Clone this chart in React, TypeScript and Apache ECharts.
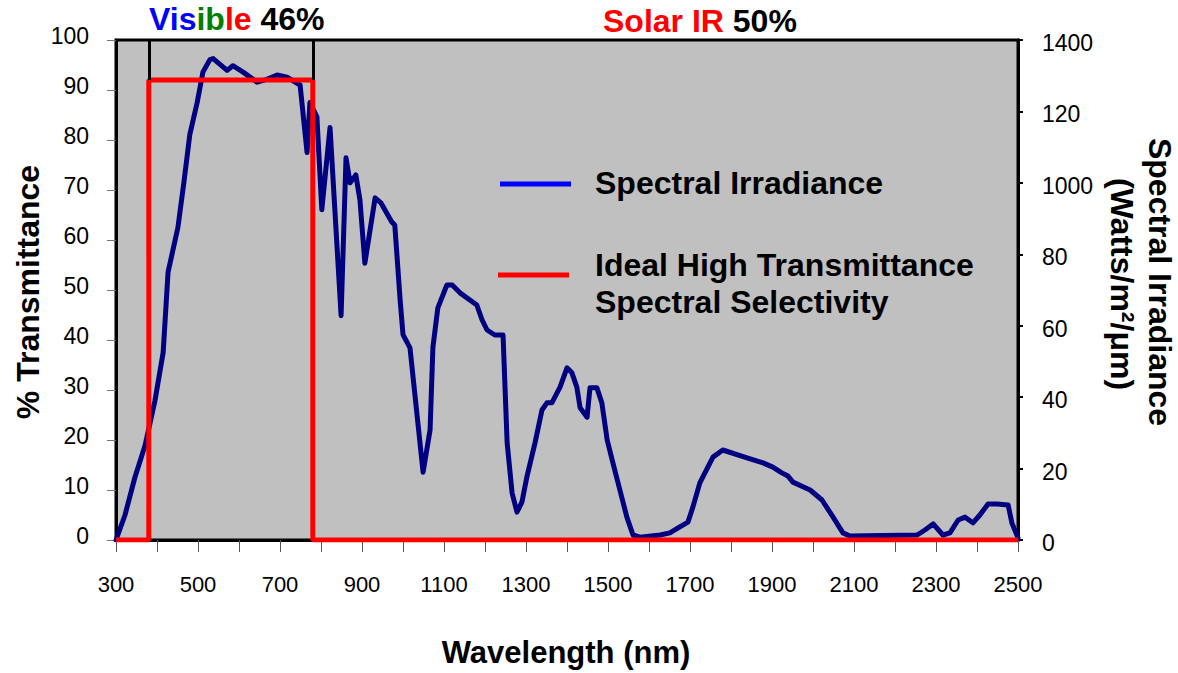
import React, { useEffect, useRef } from "react";
import * as echarts from "echarts";

// Wavelength (nm) and solar spectral irradiance (W/m²/µm)
const wavelengths = [
  300, 322, 346, 371, 395, 415, 427, 451, 466, 480, 498, 512, 529, 537, 571, 585, 610, 644, 668, 693,
  717, 749, 766, 773, 790, 802, 822, 849, 861, 871, 885, 895, 907, 932, 946, 973, 980, 993, 1000, 1017,
  1049, 1066, 1073, 1085, 1107, 1120, 1139, 1180, 1193, 1205, 1224, 1244, 1254, 1266, 1278, 1290, 1302,
  1322, 1339, 1351, 1363, 1383, 1400, 1412, 1424, 1432, 1449, 1456, 1473, 1485, 1498, 1512, 1529, 1546,
  1561, 1578, 1627, 1651, 1671, 1695, 1707, 1724, 1756, 1780, 1839, 1878, 1902, 1924, 1939, 1951, 1993,
  2022, 2049, 2073, 2090, 2254, 2273, 2293, 2317, 2334, 2354, 2371, 2390, 2407, 2427, 2449, 2476, 2485, 2500,
];
const irradiance = [
  0, 70, 175, 265, 390, 525, 750, 875, 1005, 1135, 1225, 1310, 1345, 1348, 1315, 1328, 1310, 1282, 1290, 1302,
  1296, 1274, 1085, 1225, 1185, 925, 1155, 628, 1070, 1000, 1022, 952, 775, 958, 944, 890, 882, 672, 575, 538,
  190, 308, 540, 650, 714, 714, 692, 658, 616, 588, 574, 574, 272, 132, 78, 106, 176,
  272, 364, 384, 384, 428, 482, 468, 428, 370, 344, 426, 426, 384, 280, 216, 140, 64,
  14, 8, 14, 20, 34, 50, 92, 160, 232, 252, 230, 216, 204, 188, 179, 162, 140,
  112, 64, 20, 11, 14, 28, 45, 14, 20, 56, 64, 48, 70, 101, 101, 98, 48, 6,
];

// Ideal high-transmittance spectral selectivity (% transmittance)
const idealWavelengths = [300, 380, 380, 780, 780, 2500];
const idealTransmittance = [0, 0, 92, 92, 0, 0];
const visibleBounds = [380, 780];

// Axis tick labels
const xLabelValues = [300, 500, 700, 900, 1100, 1300, 1500, 1700, 1900, 2100, 2300, 2500];
const rightTickValues = [0, 200, 400, 600, 800, 1000, 1200, 1400];
const rightTickLabels = ["0", "20", "40", "60", "80", "1000", "120", "1400"];

const FONT = "Liberation Sans, Arial, Helvetica, sans-serif";
const BOLD = `bold 32px ${FONT}`;

export default function App() {
  const ref = useRef<HTMLDivElement>(null);

  useEffect(() => {
    if (!ref.current) return;
    const chart = echarts.init(ref.current, null, { renderer: "svg" });

    const blueData = wavelengths.map((w, i) => [w, irradiance[i]]);
    const redData = idealWavelengths.map((w, i) => [w, idealTransmittance[i]]);
    const top = idealTransmittance[2];

    const option: any = {
      animation: false,
      backgroundColor: "#ffffff",
      textStyle: { fontFamily: FONT },
      grid: {
        left: 116,
        right: 160,
        top: 40,
        bottom: 133,
        show: true,
        backgroundColor: "#c0c0c0",
        borderColor: "#000000",
        borderWidth: 3,
      },
      xAxis: {
        type: "value",
        min: 300,
        max: 2500,
        interval: 100,
        axisLine: { show: true, onZero: false, lineStyle: { color: "#000", width: 3 } },
        axisTick: { show: true, length: 12, lineStyle: { color: "#555", width: 1 } },
        splitLine: { show: false },
        axisLabel: {
          color: "#000",
          fontSize: 22,
          fontFamily: FONT,
          margin: 33,
          formatter: (v: number) => (xLabelValues.indexOf(v) >= 0 ? String(v) : ""),
        },
      },
      yAxis: [
        {
          type: "value",
          min: 0,
          max: 100,
          interval: 10,
          position: "left",
          axisLine: { show: true, lineStyle: { color: "#000", width: 3 } },
          axisTick: { show: true, length: 9, lineStyle: { color: "#777", width: 1 } },
          splitLine: { show: false },
          axisLabel: {
            color: "#000",
            fontSize: 23,
            fontFamily: FONT,
            margin: 27,
            formatter: (v: number) => `{a|${v}}`,
            rich: { a: { fontSize: 23, fontFamily: FONT, color: "#000", padding: [0, 0, 9, 0] } },
          },
        },
        {
          type: "value",
          min: 0,
          max: 1400,
          interval: 200,
          position: "right",
          axisLine: { show: true, lineStyle: { color: "#000", width: 3 } },
          axisTick: { show: true, length: 5, lineStyle: { color: "#000", width: 2 } },
          splitLine: { show: false },
          axisLabel: {
            color: "#000",
            fontSize: 23,
            fontFamily: FONT,
            margin: 24,
            formatter: (v: number) => {
              const k = rightTickValues.indexOf(v);
              return k >= 0 ? `{a|${rightTickLabels[k]}}` : "";
            },
            rich: { a: { fontSize: 23, fontFamily: FONT, color: "#000", padding: [6, 0, 0, 0] } },
          },
        },
      ],
      series: [
        {
          name: "Spectral Irradiance",
          type: "line",
          yAxisIndex: 1,
          data: blueData,
          showSymbol: false,
          symbol: "none",
          lineStyle: { color: "#000080", width: 5, join: "round", cap: "round" },
          z: 3,
        },
        {
          name: "Ideal High Transmittance Spectral Selectivity",
          type: "line",
          yAxisIndex: 0,
          data: redData,
          showSymbol: false,
          symbol: "none",
          lineStyle: { color: "#ff0000", width: 5 },
          z: 4,
          markLine: {
            silent: true,
            symbol: "none",
            label: { show: false },
            lineStyle: { color: "#000", width: 3, type: "solid" },
            data: visibleBounds.map((b) => [{ coord: [b, 100] }, { coord: [b, top] }]),
          },
        },
      ],
      graphic: [
        {
          type: "text",
          left: 149,
          top: 3,
          style: {
            text: "{b|Vis}{g|ib}{r|le}{k| 46%}",
            font: BOLD,
            rich: {
              b: { fill: "#0000ff", font: BOLD },
              g: { fill: "#008000", font: BOLD },
              r: { fill: "#ff0000", font: BOLD },
              k: { fill: "#000000", font: BOLD },
            },
          },
        },
        {
          type: "text",
          left: 603,
          top: 5,
          style: {
            text: "{r|Solar IR}{k| 50%}",
            font: BOLD,
            rich: {
              r: { fill: "#ff0000", font: BOLD },
              k: { fill: "#000000", font: BOLD },
            },
          },
        },
        {
          type: "line",
          shape: { x1: 500, y1: 184, x2: 571, y2: 184 },
          style: { stroke: "#0000ff", lineWidth: 5 },
          z: 10,
        },
        {
          type: "line",
          shape: { x1: 498, y1: 275, x2: 569, y2: 275 },
          style: { stroke: "#ff0000", lineWidth: 5 },
          z: 10,
        },
        {
          type: "text",
          x: 595,
          y: 183,
          style: { text: "Spectral Irradiance", font: BOLD, fill: "#000", textVerticalAlign: "middle" },
          z: 10,
        },
        {
          type: "text",
          x: 595,
          y: 265,
          style: { text: "Ideal High Transmittance", font: BOLD, fill: "#000", textVerticalAlign: "middle" },
          z: 10,
        },
        {
          type: "text",
          x: 595,
          y: 302,
          style: { text: "Spectral Selectivity", font: BOLD, fill: "#000", textVerticalAlign: "middle" },
          z: 10,
        },
        {
          type: "text",
          x: 28,
          y: 292,
          rotation: Math.PI / 2,
          style: {
            text: "% Transmittance",
            font: BOLD,
            fill: "#000",
            textAlign: "center",
            textVerticalAlign: "middle",
          },
        },
        {
          type: "text",
          x: 1160,
          y: 282,
          rotation: -Math.PI / 2,
          style: {
            text: "Spectral Irradiance",
            font: BOLD,
            fill: "#000",
            textAlign: "center",
            textVerticalAlign: "middle",
          },
        },
        {
          type: "text",
          x: 1122,
          y: 284,
          rotation: -Math.PI / 2,
          style: {
            text: "(Watts/m²/μm)",
            font: BOLD,
            fill: "#000",
            textAlign: "center",
            textVerticalAlign: "middle",
          },
        },
        {
          type: "text",
          x: 566,
          y: 652,
          style: {
            text: "Wavelength (nm)",
            font: `bold 31px ${FONT}`,
            fill: "#000",
            textAlign: "center",
            textVerticalAlign: "middle",
          },
        },
      ],
    };

    chart.setOption(option);
    return () => chart.dispose();
  }, []);

  return (
    <div
      ref={ref}
      style={{ position: "absolute", left: 0, top: 0, width: 1178, height: 673 }}
    />
  );
}
